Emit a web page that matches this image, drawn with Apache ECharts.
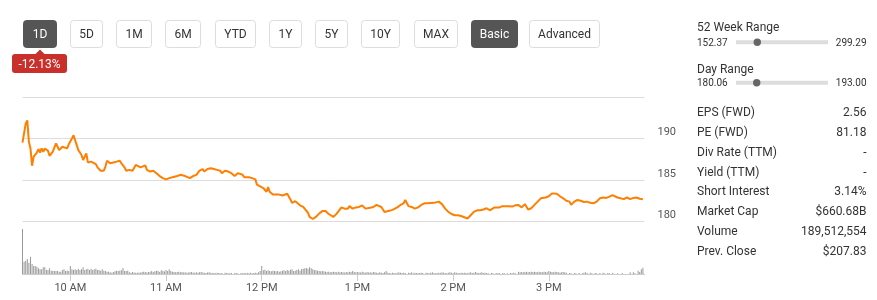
<!DOCTYPE html>
<html>
<head>
<meta charset="utf-8">
<script src="https://cdn.jsdelivr.net/npm/echarts@6/dist/echarts.min.js"></script>
<style>
html,body{margin:0;padding:0;background:#fff;}
#chart{width:877px;height:300px;}
</style>
</head>
<body>
<div id="chart"></div>
<script>
// ---- data ----
const rangeButtons = ['1D','5D','1M','6M','YTD','1Y','5Y','10Y','MAX'];
const modeButtons = ['Basic','Advanced'];
const changeLabel = '-12.13%';
const week52 = {low: 152.37, high: 299.29, lowText: '152.37', highText: '299.29'};
const dayRange = {low: 180.06, high: 193.00, lowText: '180.06', highText: '193.00'};
const statLabels = ['EPS (FWD)','PE (FWD)','Div Rate (TTM)','Yield (TTM)','Short Interest','Market Cap','Volume','Prev. Close'];
const statValues = ['2.56','81.18','-','-','3.14%','$660.68B','189,512,554','$207.83'];
const priceTicks = [180, 185, 190];
const timeTickLabels = ['10 AM','11 AM','12 PM','1 PM','2 PM','3 PM'];
const timeTickValues = ['10:00','11:00','12:00','13:00','14:00','15:00'];

const priceTimes = ['09:30','09:32','09:33','09:34','09:35','09:36','09:37','09:39','09:40','09:41','09:42','09:43','09:44','09:46','09:47','09:49','09:51','09:53','09:55','09:56','09:58','09:59',
'10:01','10:02','10:04','10:05','10:07','10:08','10:09','10:10','10:11','10:13','10:14','10:16','10:17','10:19','10:21','10:22','10:23','10:25','10:27','10:29','10:31','10:32','10:34','10:35','10:37','10:39','10:41','10:42','10:44','10:45','10:47','10:48','10:50','10:52','10:54','10:56','10:58',
'11:00','11:02','11:04','11:07','11:09','11:10','11:12','11:13','11:15','11:17','11:19','11:21','11:23','11:24','11:26','11:28','11:30','11:32','11:34','11:35','11:37','11:39','11:41','11:43','11:45','11:46','11:48','11:49','11:52','11:54','11:56','11:57','11:59',
'12:01','12:03','12:04','12:05','12:07','12:09','12:11','12:13','12:16','12:18','12:19','12:21','12:22','12:24','12:26','12:27','12:29','12:30','12:32','12:34','12:36','12:38','12:40','12:42','12:45','12:47','12:48','12:50','12:52','12:54','12:55','12:57','12:59',
'13:01','13:03','13:05','13:08','13:10','13:12','13:15','13:17','13:18','13:20','13:22','13:25','13:27','13:29','13:30','13:32','13:34','13:36','13:38','13:40','13:42','13:44','13:48','13:51','13:53','13:55','13:57','13:59',
'14:01','14:03','14:05','14:07','14:09','14:11','14:13','14:15','14:17','14:19','14:21','14:23','14:24','14:26','14:27','14:29','14:31','14:32','14:35','14:37','14:39','14:41','14:43','14:45','14:47','14:49','14:51','14:53','14:55','14:58',
'15:00','15:02','15:03','15:05','15:07','15:09','15:11','15:13','15:14','15:16','15:18','15:20','15:22','15:24','15:26','15:28','15:30','15:32','15:34','15:36','15:38','15:40','15:43','15:45','15:47','15:49','15:51','15:53','15:55','15:57','15:59'];
const priceValues = [189.5,191.8,192.2,189.6,188.8,186.7,187.8,188.3,188.7,188.3,188.8,188.4,188.8,188.5,187.9,188.4,189.4,188.6,189.0,189.1,188.8,189.3,
190.0,190.4,189.2,188.6,188.0,187.4,187.6,188.2,187.1,187.2,187.3,186.9,186.5,186.1,186.1,186.6,187.3,187.0,187.1,187.2,187.3,187.0,186.5,186.1,186.2,186.1,186.8,186.9,186.5,186.7,186.75,186.2,186.0,186.1,185.8,185.45,185.2,
185.05,185.2,185.3,185.45,185.6,185.7,185.45,185.6,185.2,185.45,185.6,186.1,186.3,186.0,186.3,186.4,186.3,186.2,186.1,185.8,186.1,186.0,185.8,185.45,185.8,185.6,185.6,185.3,185.3,185.2,185.05,184.4,184.2,
184.0,183.55,184.1,183.55,183.2,183.2,183.2,183.1,183.3,182.6,182.2,182.4,182.5,181.9,181.7,181.5,181.0,180.5,180.24,180.5,180.9,181.2,181.2,180.85,180.5,180.9,180.9,181.65,181.5,181.5,181.8,181.5,181.65,
181.7,181.9,181.5,181.6,181.7,181.95,181.7,181.1,180.9,181.25,181.35,181.65,181.95,182.15,182.55,181.8,181.7,181.5,181.65,181.95,182.15,182.15,182.2,182.35,182.05,181.5,181.1,180.85,
180.7,180.7,180.6,180.45,180.3,180.7,181.1,181.3,181.3,181.4,181.55,181.3,181.1,181.65,181.75,181.65,181.8,182.0,181.8,181.75,181.9,181.95,181.65,182.05,181.4,181.55,181.95,182.35,182.75,182.85,
183.0,183.35,183.55,183.3,183.0,182.75,182.45,182.35,181.95,182.35,182.55,182.45,182.3,182.35,182.2,182.15,182.35,182.75,182.85,182.8,182.95,183.15,182.85,182.75,182.65,182.85,182.65,182.8,182.85,182.7,182.65];

// per-minute volume (thousands of shares), starting 09:30
const volumeStart = '09:30';
const volumeValues = [
4500,1230,1330,1500,1130,1730,1000,800,800,730,
570,470,470,670,670,400,400,570,330,330,
300,300,300,230,230,400,470,300,350,300,
800,470,400,470,400,530,400,470,670,400,
470,530,400,530,400,470,530,400,400,330,
470,330,300,230,230,170,130,200,270,330,
300,330,370,600,300,300,330,170,130,200,
150,130,120,150,130,200,230,200,150,200,
230,300,200,270,330,300,200,370,300,250,
400,300,470,300,230,200,170,200,230,170,
200,150,170,130,150,170,200,150,130,170,
130,170,200,150,130,100,150,170,130,100,
100,70,130,100,70,100,0,130,100,70,
70,100,0,70,100,70,0,100,70,100,
70,100,70,130,70,100,130,100,170,300,
800,370,430,300,370,300,270,330,300,270,
300,230,270,330,370,300,400,330,430,470,
300,330,400,470,330,500,530,570,600,530,
670,570,470,400,370,330,300,270,300,270,
230,200,230,170,200,230,200,170,230,170,
200,170,150,200,170,230,200,300,200,170,
200,170,150,230,170,130,200,150,170,130,
200,170,130,100,170,130,100,170,300,130,
100,70,130,100,70,130,170,130,100,130,
100,0,130,100,170,70,130,100,70,100,
130,100,0,130,100,70,130,170,100,70,
100,130,100,170,130,100,70,130,170,130,
100,170,130,100,70,130,100,130,100,70,
130,170,100,130,200,130,100,130,170,100,
130,100,70,0,100,70,0,100,70,100,
0,70,100,0,70,0,100,70,130,70,
0,230,170,200,170,200,230,170,200,230,
200,230,200,170,230,200,170,230,200,170,
300,230,200,170,230,200,170,130,170,200,
170,130,0,100,70,0,100,70,0,100,
0,70,130,170,100,0,130,70,0,100,
70,0,100,0,130,70,0,100,70,0,
100,0,0,70,0,0,100,0,0,0,
0,170,0,170,70,0,330,200,470,630];

// ---- helpers ----
function toMin(t){const p=t.split(':');return +p[0]*60 + +p[1];}
const priceData = priceTimes.map((t,i)=>[toMin(t), priceValues[i]]);
const v0 = toMin(volumeStart);
const volumeData = volumeValues.map((v,i)=>[v0+i, v]);
const tickMins = timeTickValues.map(toMin);

const FONT = 'Roboto, "Noto Sans", sans-serif';
const chart = echarts.init(document.getElementById('chart'), null, {renderer:'canvas'});

// ---- UI graphics (buttons, badge, stats panel) ----
const graphics = [];
const btnX = [23,70,116,165,215,269,315,361,414];
const btnW = [33,32,35,35,40,32,32,38,43];
const TY = 1; // text vertical nudge
rangeButtons.forEach((b,i)=>{
  const active = i===0;
  graphics.push({type:'rect', shape:{x:btnX[i]+0.5,y:20.5,width:btnW[i],height:27,r:3},
    style:{fill:active?'#555':'#fff', stroke:active?'#555':'#ddd', lineWidth:1}});
  graphics.push({type:'text', x:btnX[i]+btnW[i]/2+0.5, y:34+TY, style:{text:b, fill:active?'#fff':'#333', font:'12px '+FONT, textAlign:'center', textVerticalAlign:'middle'}});
});
const modeX=[471,529], modeW=[46,70];
modeButtons.forEach((b,i)=>{
  const active = i===0;
  graphics.push({type:'rect', shape:{x:modeX[i]+0.5,y:20.5,width:modeW[i],height:27,r:3},
    style:{fill:active?'#555':'#fff', stroke:active?'#555':'#ddd', lineWidth:1}});
  graphics.push({type:'text', x:modeX[i]+modeW[i]/2+0.5, y:34+TY, style:{text:b, fill:active?'#fff':'#333', font:'12px '+FONT, textAlign:'center', textVerticalAlign:'middle'}});
});
// change badge
graphics.push({type:'polygon', shape:{points:[[35,54.5],[40,49.5],[45,54.5]]}, style:{fill:'#c9302c'}});
graphics.push({type:'rect', shape:{x:12,y:54,width:55,height:19,r:3}, style:{fill:'#c9302c'}});
graphics.push({type:'text', x:39.5, y:64+TY, style:{text:changeLabel, fill:'#fff', font:'12px '+FONT, textAlign:'center', textVerticalAlign:'middle'}});

// range sliders
function rangeBlock(title, r, yTitle, ySub, dotX){
  graphics.push({type:'text', x:697, y:yTitle+TY, style:{text:title, fill:'#333', font:'12px '+FONT, textVerticalAlign:'middle'}});
  graphics.push({type:'text', x:697, y:ySub+TY, style:{text:r.lowText, fill:'#333', font:'10px '+FONT, textVerticalAlign:'middle'}});
  graphics.push({type:'text', x:866.5, y:ySub+TY, style:{text:r.highText, fill:'#333', font:'10px '+FONT, textAlign:'right', textVerticalAlign:'middle'}});
  graphics.push({type:'rect', shape:{x:736,y:ySub-2,width:92,height:4}, style:{fill:'#ddd'}});
  graphics.push({type:'circle', shape:{cx:dotX,cy:ySub,r:3.7}, style:{fill:'#666'}});
}
rangeBlock('52 Week Range', week52, 26.5, 42.3, 757.3);
rangeBlock('Day Range', dayRange, 69, 82.7, 756.7);

statLabels.forEach((l,i)=>{
  const y = 112.3 + i*19.75 + TY;
  graphics.push({type:'text', x:697, y:y, style:{text:l, fill:'#333', font:'12px '+FONT, textVerticalAlign:'middle'}});
  graphics.push({type:'text', x:866.5, y:y, style:{text:statValues[i], fill:'#333', font:'12px '+FONT, textAlign:'right', textVerticalAlign:'middle'}});
});

function fmtHour(m){
  const idx = tickMins.indexOf(Math.round(m));
  return idx>=0 ? timeTickLabels[idx] : '';
}

const option = {
  animation:false,
  backgroundColor:'#fff',
  grid:[
    {left:22.5, width:622, top:97.3, height:123.7},
    {left:22.5, width:622, top:229, height:45}
  ],
  xAxis:[
    {type:'value', gridIndex:0, min:570, max:960, show:false},
    {type:'value', gridIndex:1, min:570, max:960,
      splitLine:{show:false},
      axisLine:{show:true, lineStyle:{color:'#ccc', width:1}},
      axisTick:{show:true, customValues:tickMins, length:7, lineStyle:{color:'#ccc'}},
      axisLabel:{show:true, customValues:tickMins, formatter:fmtHour, color:'#555', fontSize:11, fontFamily:'Roboto', margin:9}
    }
  ],
  yAxis:[
    {type:'value', gridIndex:0, position:'right', min:180, max:195, interval:5,
      axisLine:{show:false}, axisTick:{show:false},
      splitLine:{show:true, lineStyle:{color:'#ddd', width:1}},
      axisLabel:{show:true, color:'#555', fontSize:11, fontFamily:'Roboto', margin:13, verticalAlign:'bottom', lineHeight:12,
        formatter:function(v){return priceTicks.indexOf(v)>=0 ? String(v) : '';}}
    },
    {type:'value', gridIndex:1, min:0, max:4500, show:false}
  ],
  series:[
    {type:'line', xAxisIndex:0, yAxisIndex:0, data:priceData, showSymbol:false, symbol:'none',
      lineStyle:{color:'#ff7f00', width:2}, itemStyle:{color:'#ff7f00'}, clip:false},
    {type:'bar', xAxisIndex:1, yAxisIndex:1, data:volumeData, barWidth:1, barGap:'0%',
      itemStyle:{color:'#9a9a9a'}}
  ],
  graphic:graphics
};
chart.setOption(option);
</script>
</body>
</html>
